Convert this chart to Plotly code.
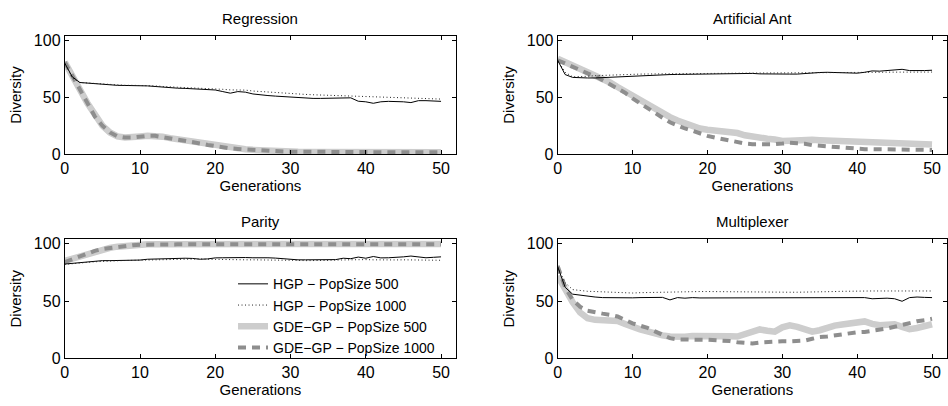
import plotly.graph_objects as go
from plotly.subplots import make_subplots

generations = list(range(51))

titles = ["Regression", "Artificial Ant", "Parity", "Multiplexer"]
series_names = ["HGP − PopSize 500", "HGP − PopSize 1000",
                "GDE−GP − PopSize 500", "GDE−GP − PopSize 1000"]
x_ticks = [0, 10, 20, 30, 40, 50]
y_ticks = [0, 50, 100]

# Regression
reg_hgp500 = [80, 68, 63, 62.5, 62, 61.5, 60.7, 60.5, 60.4, 60.4,
              60.4, 60, 59.5, 58.8, 58.4, 58, 57.8, 57.3, 57, 56.8,
              56.4, 55, 53.6, 55, 54.5, 52.9, 52, 51.5, 51, 50.5,
              50, 49.5, 49, 49, 49, 49, 49, 49, 49.5, 46.5,
              46, 44.7, 46, 46.4, 46.4, 46, 45.3, 47, 47, 46.5,
              46.4]
reg_hgp1000 = [80, 67, 63, 62.5, 62, 61.5, 61, 60.7, 60.5, 60.5,
               60.5, 60.3, 60, 59.5, 59, 58.7, 58.5, 58.2, 58, 57.7,
               57.5, 57, 56.5, 56.5, 56.3, 55.5, 55, 54.5, 54.2, 54,
               53.5, 53, 52.5, 52.2, 52, 52, 51.5, 51.2, 50.8, 50.6,
               50.5, 50.2, 50, 50, 49.8, 49.5, 49.2, 49, 49, 48.7,
               48.4]
reg_gde500 = [81, 70, 57, 45, 34, 25, 19, 15.5, 14.5, 14.5,
              15.5, 16, 16, 15.3, 14, 13, 12, 10.8, 9.6, 8.3,
              7, 6, 5.2, 4.7, 4.2, 3.7, 3.2, 2.8, 2.5, 2.3,
              2.1, 2, 1.9, 1.8, 1.7, 1.7, 1.6, 1.6, 1.5, 1.5,
              1.5, 1.5, 1.5, 1.5, 1.5, 1.5, 1.5, 1.5, 1.5, 1.5,
              1.5]
reg_gde1000 = [81, 69, 56, 44, 33, 25, 19, 15.5, 14.5, 14.5,
               15.3, 16, 16, 15, 14, 13, 12, 10.5, 9.3, 8,
               6.8, 5.8, 5, 4.5, 4, 3.5, 3.1, 2.8, 2.5, 2.3,
               2.1, 2, 1.9, 1.8, 1.7, 1.7, 1.6, 1.6, 1.5, 1.5,
               1.5, 1.5, 1.5, 1.5, 1.5, 1.5, 1.5, 1.5, 1.5, 1.5,
               1.5]

# Artificial Ant
ant_hgp500 = [82.6, 70, 67.5, 67, 67, 67, 67.3, 67.8, 68.2, 68.4,
              68.7, 69, 69.4, 70, 70, 70, 70.1, 70.2, 70.3, 70.4,
              70.4, 70.5, 70.6, 70.8, 71, 71.2, 71, 70.6, 70.4, 70.4,
              70.4, 70.4, 70.4, 71, 71.5, 71.8, 72, 71.8, 71.5, 71.3,
              71.2, 72, 73.2, 73, 73.5, 74, 74.6, 73.5, 73.3, 73.5,
              73.8]
ant_hgp1000 = [82.6, 72, 68, 68, 68.5, 69, 69.3, 69.7, 70, 70.2,
               70.3, 70.4, 70.5, 70.6, 70.7, 70.8, 70.8, 70.9, 71, 71,
               71, 71, 71, 71.1, 71.2, 71.2, 71.3, 71.3, 71.4, 71.4,
               71.4, 71.5, 71.5, 71.6, 71.7, 71.8, 71.8, 71.9, 72, 72,
               72, 72, 72, 72, 72.1, 72.2, 72.2, 72.2, 72.2, 72.2,
               72.2]
ant_gde500 = [84, 81, 78.5, 75.5, 72.5, 70, 66.5, 63, 59, 55,
              51, 47, 43.5, 40, 36.5, 32.5, 29.5, 27, 25, 22.5,
              21.4, 20.8, 20.3, 20, 18.5, 16.5, 15.1, 14.3, 13.5, 12.8,
              11.5, 11.8, 12.3, 12.8, 12.5, 12.2, 12, 12, 12, 12,
              11.8, 11.5, 11, 10.7, 10.4, 10, 9.6, 9.2, 9, 8.8,
              8.5]
ant_gde1000 = [82.6, 80, 77, 74, 71, 68.5, 65, 61.5, 58, 54,
               49, 44.5, 40.5, 36, 32, 28, 25, 22.5, 20.5, 18,
               16, 14.5, 13, 11.5, 10.3, 9.3, 8.7, 8.5, 8.5, 8.7,
               9.2, 9.9, 9.5, 9.1, 7.8, 7.2, 6.5, 6, 5.4, 4.8,
               4.3, 4.3, 4.3, 4.2, 4.2, 4, 3.9, 3.8, 3.7, 3.7,
               3.6]

# Parity
par_hgp500 = [82.3, 83, 83.4, 83.8, 84.5, 85.3, 85.3, 85.3, 85.3, 85.3,
              85.8, 86.5, 86.8, 87, 87.2, 87.3, 87.4, 87.2, 86.5, 86.8,
              87.7, 87.8, 88, 88, 88, 87.8, 88, 87.8, 87.5, 87,
              86, 86, 86, 86, 86, 86, 86.2, 87.4, 87, 88.4,
              87.4, 88.9, 87.7, 87.8, 88, 88.6, 89.3, 88.4, 87.8, 88.2,
              88.6]
par_hgp1000 = [82, 82.8, 83.3, 83.8, 84.3, 84.8, 85, 85.2, 85.4, 85.6,
               85.8, 86, 86, 86.2, 86.4, 86.6, 86.7, 86.8, 86.8, 86.5,
               86.3, 86.2, 86, 86, 86, 86, 86, 86, 86, 86,
               85.8, 85.5, 85.3, 85.2, 85.3, 85.5, 85.8, 86, 86, 86,
               86.2, 86, 85.8, 85.8, 85.9, 86, 86, 85.8, 85.6, 85.6,
               85.6]
par_gde500 = [85, 87, 89, 91, 93, 95, 96.5, 97.5, 98.3, 99,
              99.4, 99.6, 99.7, 99.8, 99.8, 99.8, 99.8, 99.8, 99.8, 99.8,
              99.8, 99.8, 99.8, 99.8, 99.8, 99.8, 99.8, 99.8, 99.8, 99.8,
              99.8, 99.8, 99.8, 99.8, 99.8, 99.8, 99.8, 99.8, 99.8, 99.8,
              99.8, 99.8, 99.8, 99.8, 99.8, 99.8, 99.8, 99.8, 99.8, 99.8,
              99.8]
par_gde1000 = [84, 86.5, 89, 91.5, 93.8, 95.5, 96.5, 97.5, 98.3, 98.8,
               99.2, 99.4, 99.5, 99.5, 99.5, 99.5, 99.5, 99.5, 99.5, 99.5,
               99.5, 99.5, 99.5, 99.5, 99.5, 99.5, 99.5, 99.5, 99.5, 99.5,
               99.5, 99.5, 99.5, 99.5, 99.5, 99.5, 99.5, 99.5, 99.5, 99.5,
               99.5, 99.5, 99.5, 99.5, 99.5, 99.5, 99.5, 99.5, 99.5, 99.5,
               99.5]

# Multiplexer
mux_hgp500 = [80, 62, 56, 55, 54, 53.5, 53, 52.8, 52.7, 52.7,
              52.8, 53, 53, 53.2, 53.2, 51, 53, 52.5, 53, 52.7,
              52.7, 52.8, 53, 52.7, 53, 52.7, 53, 52.8, 52.7, 52.7,
              52.7, 53, 52.5, 52.8, 52.7, 52.7, 52.7, 52.7, 52.4, 52.5,
              52.7, 53, 52, 52.5, 52.5, 52, 49.8, 53, 53.5, 53.2,
              53]
mux_hgp1000 = [80, 66, 60, 59, 58.5, 58.3, 58, 57.7, 57.3, 57,
               57, 57.3, 57.5, 57.7, 57.8, 58, 58, 58.2, 58.3, 58.3,
               58.3, 58.2, 58, 58, 57.8, 57.7, 57.7, 57.7, 57.7, 57.7,
               57.7, 57.7, 57.7, 57.7, 57.8, 58, 58.2, 58.3, 58.5, 58.7,
               58.8, 58.8, 58.8, 58.8, 58.8, 58.8, 58.8, 58.8, 58.8, 58.8,
               58.8]
mux_gde500 = [72, 60, 49, 40, 35, 33.6, 33.6, 33.4, 32.5, 30,
              27, 25.3, 23.5, 21.5, 20, 19, 18.4, 18.8, 19.4, 19.6,
              19.6, 19.6, 19.4, 19.2, 19, 21.5, 24, 25.2, 24, 23.3,
              27, 28.8, 27.5, 25, 23.3, 24.5, 27, 28.5, 29.5, 30.5,
              31, 32.2, 30, 28.8, 29.2, 29.7, 27.5, 25.5, 26.5, 27.5,
              29.7]
mux_gde1000 = [80.7, 62, 51, 45, 41.5, 40, 39, 38, 36.5, 33.5,
               30.5, 28.5, 26.5, 23.5, 20.5, 17.6, 16.5, 16.2, 16.2, 16.2,
               16.2, 16, 15.5, 15, 14, 13.5, 13, 13.8, 14.3, 14.6,
               14.8, 14.8, 15, 15.5, 17, 18.5, 19, 20, 20.8, 21.8,
               22.7, 23, 23.8, 25, 26, 27.5, 29.4, 31, 32.3, 33.2,
               34.5]

panels = [
    (reg_hgp500, reg_hgp1000, reg_gde500, reg_gde1000),
    (ant_hgp500, ant_hgp1000, ant_gde500, ant_gde1000),
    (par_hgp500, par_hgp1000, par_gde500, par_gde1000),
    (mux_hgp500, mux_hgp1000, mux_gde500, mux_gde1000),
]

styles = [
    dict(color="black", width=1),
    dict(color="#222222", width=1, dash="1px,2.5px"),
    dict(color="#cdcdcd", width=6.5),
    dict(color="#8e8e8e", width=4, dash="8px,6px"),
]

W, H = 948, 406
FONT = "Liberation Sans, Arial, Helvetica, sans-serif"

fig = make_subplots(rows=2, cols=2)

# plot-area boxes in pixels (left, right, top, bottom)
boxes = [(61, 454, 33, 155), (556, 947, 33, 155),
         (61, 454, 243, 366), (556, 947, 243, 366)]

for i, data in enumerate(panels):
    r, c = i // 2 + 1, i % 2 + 1
    for k in [2, 3, 0, 1]:
        fig.add_trace(go.Scatter(
            x=generations, y=data[k], mode="lines", name=series_names[k],
            line=styles[k], showlegend=(i == 2), legendrank=k + 1,
        ), row=r, col=c)

for i, (l, rr, t, b) in enumerate(boxes):
    ax = "" if i == 0 else str(i + 1)
    fig.layout["xaxis" + ax].update(
        domain=[l / W, rr / W], range=[0, 52], tickvals=x_ticks,
        ticks="inside", ticklen=4, tickcolor="black", showline=True,
        linecolor="black", linewidth=1, mirror="ticks", showgrid=False,
        zeroline=False, tickfont=dict(size=16, color="black"),
        title=dict(text="Generations", font=dict(size=15, color="black"), standoff=1),
    )
    fig.layout["yaxis" + ax].update(
        domain=[1 - b / H, 1 - t / H], range=[0, 104], tickvals=y_ticks,
        ticks="inside", ticklen=4, tickcolor="black", showline=True,
        linecolor="black", linewidth=1, mirror="ticks", showgrid=False,
        zeroline=False, tickfont=dict(size=16, color="black"),
        title=dict(text="Diversity", font=dict(size=15, color="black"), standoff=8),
    )
    fig.add_annotation(
        text=titles[i], x=(l + rr) / 2 / W, y=1 - (t - 18) / H,
        xref="paper", yref="paper", showarrow=False,
        font=dict(size=15, color="black"), xanchor="center", yanchor="middle",
    )

fig.update_layout(
    width=W, height=H, margin=dict(l=0, r=0, t=0, b=0),
    paper_bgcolor="white", plot_bgcolor="white",
    font=dict(family=FONT, size=15, color="black"),
    legend=dict(x=230 / W, y=1 - 273 / H, xanchor="left", yanchor="top",
                bgcolor="rgba(0,0,0,0)", font=dict(size=14),
                tracegroupgap=0),
)

fig.write_html("out.html")
